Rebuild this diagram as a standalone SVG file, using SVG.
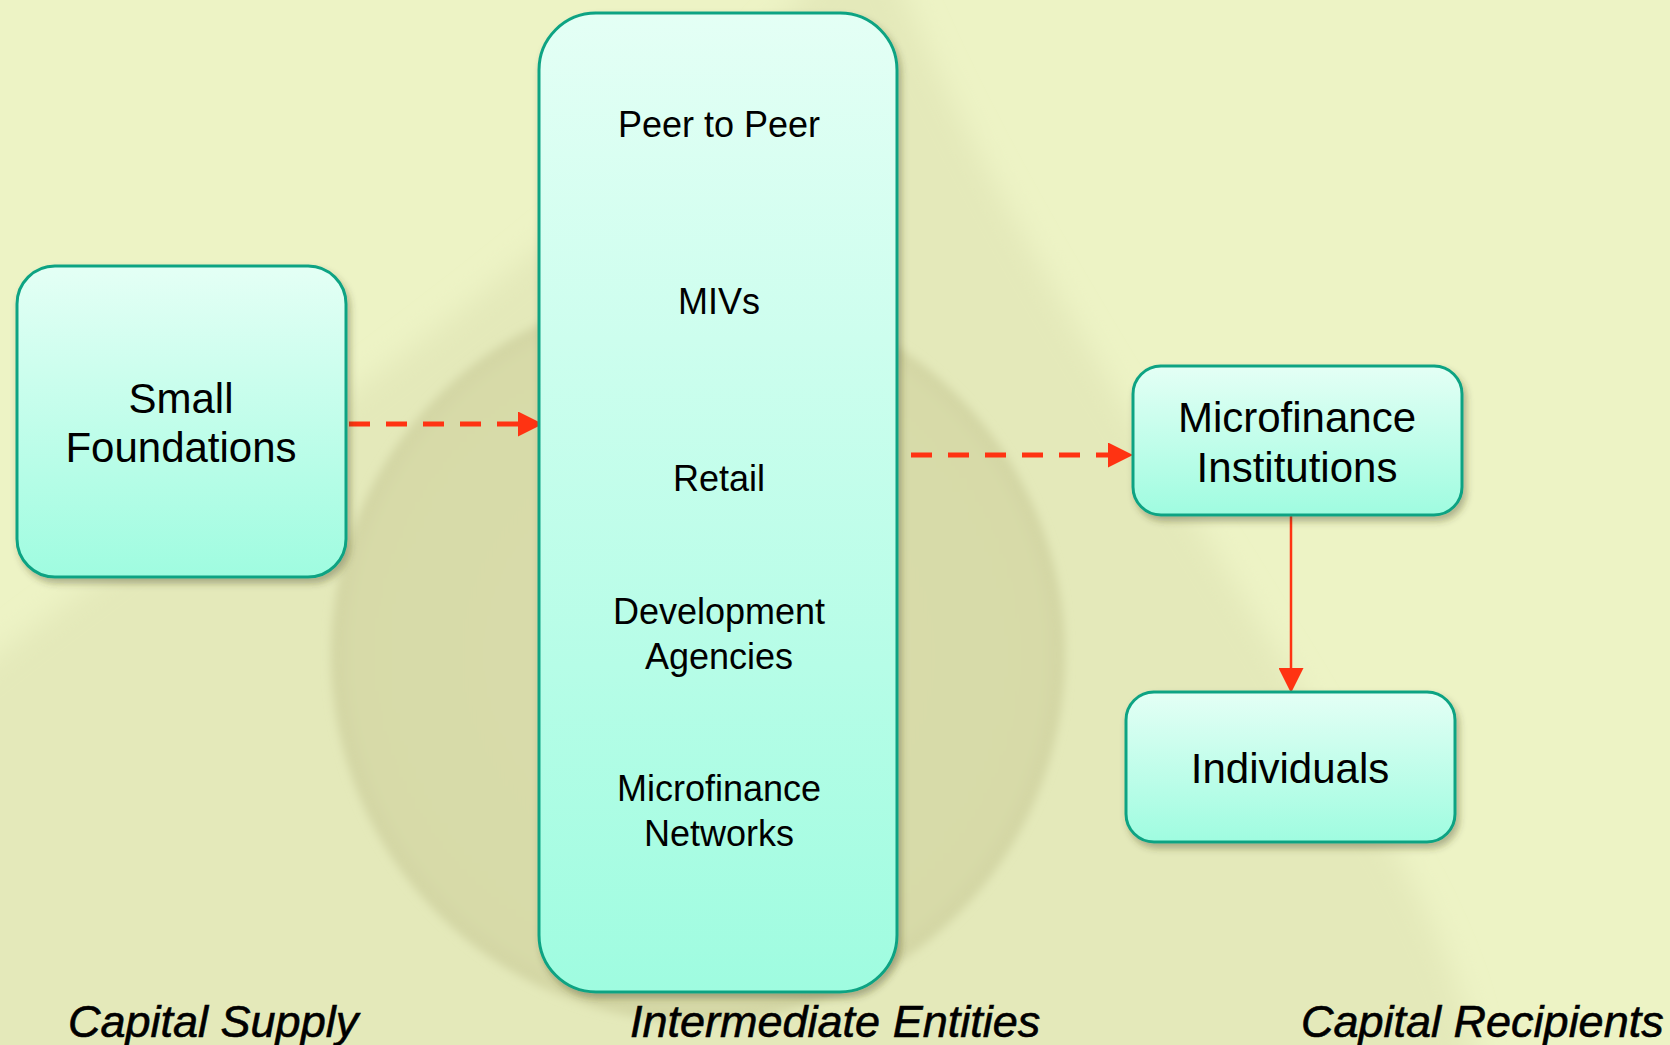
<svg xmlns="http://www.w3.org/2000/svg" width="1670" height="1045" viewBox="0 0 1670 1045">
  <defs>
    <linearGradient id="boxGrad" x1="0" y1="0" x2="0" y2="1">
      <stop offset="0" stop-color="#e4fff5"/>
      <stop offset="1" stop-color="#9ffce0"/>
    </linearGradient>
    <radialGradient id="circGrad" cx="0.5" cy="0.5" r="0.5">
      <stop offset="0" stop-color="#d9dcab"/>
      <stop offset="0.94" stop-color="#d7daa8"/>
      <stop offset="1" stop-color="#d2d5a3"/>
    </radialGradient>
    <filter id="shadow" x="-10%" y="-10%" width="130%" height="130%">
      <feDropShadow dx="3" dy="5" stdDeviation="3.5" flood-color="#3a3a20" flood-opacity="0.35"/>
    </filter>
    <filter id="soft" x="-20%" y="-20%" width="140%" height="140%">
      <feGaussianBlur stdDeviation="5"/>
    </filter>
    <filter id="softer" x="-20%" y="-20%" width="140%" height="140%">
      <feGaussianBlur stdDeviation="14"/>
    </filter>
    <marker id="head" viewBox="0 0 25 25" refX="0" refY="12.5" markerWidth="25" markerHeight="25" markerUnits="userSpaceOnUse" orient="auto">
      <path d="M0,0 L25,12.5 L0,25 Z" fill="#ff3312"/>
    </marker>
  </defs>
  <style>
    .box { fill: url(#boxGrad); stroke: #0ea383; stroke-width: 3; filter: url(#shadow); }
    .lbl { font-family: "Liberation Sans", Arial, Helvetica, sans-serif; fill: #000; text-anchor: middle; }
    .big { font-size: 42px; }
    .mid { font-size: 36px; }
    .cap { font-family: "Liberation Sans", Arial, Helvetica, sans-serif; font-style: italic; font-size: 45px; fill: #000; stroke: #000; stroke-width: 0.6; }
    .conn { stroke: #ff3312; fill: none; }
    .dash { stroke-width: 5; stroke-dasharray: 21 16; }
  </style>

  <!-- background -->
  <rect x="0" y="0" width="1670" height="1045" fill="#edf3c5"/>
  <path d="M 890 -40 C 980 200, 1200 520, 1330 740 C 1420 890, 1470 980, 1480 1090 L -60 1090 L -60 700 C 250 450, 600 250, 830 -40 Z" fill="#e4e9ba" filter="url(#softer)"/>
  <circle cx="698" cy="655" r="367" fill="url(#circGrad)" filter="url(#soft)"/>

  <!-- connectors -->
  <g id="connectors">
    <line class="conn dash" x1="349" y1="424" x2="518" y2="424" marker-end="url(#head)"/>
    <line class="conn dash" x1="911" y1="455" x2="1108" y2="455" marker-end="url(#head)"/>
    <line class="conn" stroke-width="2.5" x1="1291" y1="515" x2="1291" y2="668" marker-end="url(#head)"/>
  </g>

  <g id="small-foundations">
    <rect class="box" x="17" y="266" width="329" height="311" rx="38" ry="38"/>
    <text class="lbl big" x="181" y="413">Small</text>
    <text class="lbl big" x="181" y="462">Foundations</text>
  </g>

  <g id="intermediate">
    <rect class="box" x="539" y="13" width="358" height="979" rx="57" ry="57"/>
    <text class="lbl mid" x="719" y="137">Peer to Peer</text>
    <text class="lbl mid" x="719" y="314">MIVs</text>
    <text class="lbl mid" x="719" y="491">Retail</text>
    <text class="lbl mid" x="719" y="624">Development</text>
    <text class="lbl mid" x="719" y="669">Agencies</text>
    <text class="lbl mid" x="719" y="801">Microfinance</text>
    <text class="lbl mid" x="719" y="846">Networks</text>
  </g>

  <g id="microfinance-institutions">
    <rect class="box" x="1133" y="366" width="329" height="149" rx="28" ry="28"/>
    <text class="lbl big" x="1297" y="432">Microfinance</text>
    <text class="lbl big" x="1297" y="482">Institutions</text>
  </g>

  <g id="individuals">
    <rect class="box" x="1126" y="692" width="329" height="150" rx="28" ry="28"/>
    <text class="lbl big" x="1290" y="783">Individuals</text>
  </g>

  <g id="captions">
    <text class="cap" x="68" y="1037">Capital Supply</text>
    <text class="cap" x="630" y="1037">Intermediate Entities</text>
    <text class="cap" x="1301" y="1037">Capital Recipients</text>
  </g>
</svg>
